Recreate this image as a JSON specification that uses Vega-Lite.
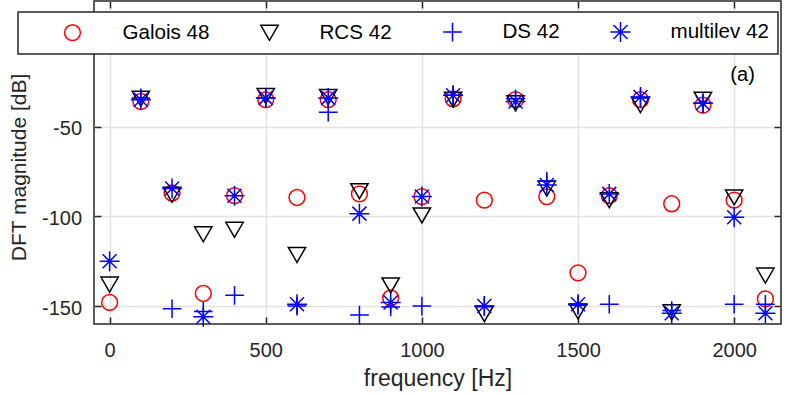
{
  "$schema": "https://vega.github.io/schema/vega-lite/v6.json",
  "width": 687,
  "height": 323,
  "autosize": "none",
  "padding": {"left": 94, "top": 1, "right": 8, "bottom": 71},
  "config": {
    "font": "Liberation Sans",
    "view": {"stroke": "#262626", "strokeWidth": 1.5},
    "axis": {
      "labelFontSize": 20,
      "labelColor": "#262626",
      "titleColor": "#262626",
      "titleFontWeight": "normal",
      "tickColor": "#262626",
      "tickWidth": 1.5,
      "tickSize": -7,
      "domain": false,
      "gridColor": "#e2e2e2",
      "gridWidth": 1.5,
      "gridOpacity": 1,
      "labelExpr": "'' + datum.value"
    },
    "legend": {"strokeWidth": 1.5}
  },
  "data": {
    "values": [
      {"series": "Galois 48", "freq": 0, "db": -148},
      {"series": "Galois 48", "freq": 100, "db": -36},
      {"series": "Galois 48", "freq": 200, "db": -87},
      {"series": "Galois 48", "freq": 300, "db": -143},
      {"series": "Galois 48", "freq": 400, "db": -88.5},
      {"series": "Galois 48", "freq": 500, "db": -35},
      {"series": "Galois 48", "freq": 600, "db": -89.5},
      {"series": "Galois 48", "freq": 700, "db": -35},
      {"series": "Galois 48", "freq": 800, "db": -87.5},
      {"series": "Galois 48", "freq": 900, "db": -145.5},
      {"series": "Galois 48", "freq": 1000, "db": -89},
      {"series": "Galois 48", "freq": 1100, "db": -34.5},
      {"series": "Galois 48", "freq": 1200, "db": -91},
      {"series": "Galois 48", "freq": 1300, "db": -35},
      {"series": "Galois 48", "freq": 1400, "db": -89},
      {"series": "Galois 48", "freq": 1500, "db": -131.5},
      {"series": "Galois 48", "freq": 1600, "db": -88.5},
      {"series": "Galois 48", "freq": 1700, "db": -35},
      {"series": "Galois 48", "freq": 1800, "db": -93},
      {"series": "Galois 48", "freq": 1900, "db": -38},
      {"series": "Galois 48", "freq": 2000, "db": -91},
      {"series": "Galois 48", "freq": 2100, "db": -146},
      {"series": "RCS 42", "freq": 0, "db": -138},
      {"series": "RCS 42", "freq": 100, "db": -34.5},
      {"series": "RCS 42", "freq": 200, "db": -88},
      {"series": "RCS 42", "freq": 300, "db": -110},
      {"series": "RCS 42", "freq": 400, "db": -107.5},
      {"series": "RCS 42", "freq": 500, "db": -33},
      {"series": "RCS 42", "freq": 600, "db": -121.5},
      {"series": "RCS 42", "freq": 700, "db": -33.5},
      {"series": "RCS 42", "freq": 800, "db": -86},
      {"series": "RCS 42", "freq": 900, "db": -138.5},
      {"series": "RCS 42", "freq": 1000, "db": -99.5},
      {"series": "RCS 42", "freq": 1100, "db": -35},
      {"series": "RCS 42", "freq": 1200, "db": -154.5},
      {"series": "RCS 42", "freq": 1300, "db": -37},
      {"series": "RCS 42", "freq": 1400, "db": -84.5},
      {"series": "RCS 42", "freq": 1500, "db": -153},
      {"series": "RCS 42", "freq": 1600, "db": -91},
      {"series": "RCS 42", "freq": 1700, "db": -38},
      {"series": "RCS 42", "freq": 1800, "db": -153.5},
      {"series": "RCS 42", "freq": 1900, "db": -35},
      {"series": "RCS 42", "freq": 2000, "db": -89.5},
      {"series": "RCS 42", "freq": 2100, "db": -133},
      {"series": "DS 42", "freq": 100, "db": -34},
      {"series": "DS 42", "freq": 200, "db": -151.5},
      {"series": "DS 42", "freq": 300, "db": -153},
      {"series": "DS 42", "freq": 400, "db": -144},
      {"series": "DS 42", "freq": 500, "db": -34},
      {"series": "DS 42", "freq": 600, "db": -150},
      {"series": "DS 42", "freq": 700, "db": -42},
      {"series": "DS 42", "freq": 800, "db": -155},
      {"series": "DS 42", "freq": 900, "db": -150.5},
      {"series": "DS 42", "freq": 1000, "db": -150},
      {"series": "DS 42", "freq": 1100, "db": -32.5},
      {"series": "DS 42", "freq": 1200, "db": -150},
      {"series": "DS 42", "freq": 1300, "db": -34.5},
      {"series": "DS 42", "freq": 1400, "db": -80.5},
      {"series": "DS 42", "freq": 1500, "db": -149.5},
      {"series": "DS 42", "freq": 1600, "db": -149},
      {"series": "DS 42", "freq": 1700, "db": -34},
      {"series": "DS 42", "freq": 1800, "db": -152.5},
      {"series": "DS 42", "freq": 1900, "db": -37},
      {"series": "DS 42", "freq": 2000, "db": -149},
      {"series": "DS 42", "freq": 2100, "db": -149},
      {"series": "multilev 42", "freq": 0, "db": -125},
      {"series": "multilev 42", "freq": 100, "db": -35},
      {"series": "multilev 42", "freq": 200, "db": -84.5},
      {"series": "multilev 42", "freq": 300, "db": -156},
      {"series": "multilev 42", "freq": 400, "db": -88.5},
      {"series": "multilev 42", "freq": 500, "db": -34},
      {"series": "multilev 42", "freq": 600, "db": -149},
      {"series": "multilev 42", "freq": 700, "db": -34},
      {"series": "multilev 42", "freq": 800, "db": -98.5},
      {"series": "multilev 42", "freq": 900, "db": -148},
      {"series": "multilev 42", "freq": 1000, "db": -89},
      {"series": "multilev 42", "freq": 1100, "db": -32.5},
      {"series": "multilev 42", "freq": 1200, "db": -150},
      {"series": "multilev 42", "freq": 1300, "db": -36},
      {"series": "multilev 42", "freq": 1400, "db": -82.5},
      {"series": "multilev 42", "freq": 1500, "db": -149},
      {"series": "multilev 42", "freq": 1600, "db": -87.5},
      {"series": "multilev 42", "freq": 1700, "db": -33.5},
      {"series": "multilev 42", "freq": 1800, "db": -154},
      {"series": "multilev 42", "freq": 1900, "db": -37},
      {"series": "multilev 42", "freq": 2000, "db": -100.5},
      {"series": "multilev 42", "freq": 2100, "db": -154}
    ]
  },
  "layer": [
    {
      "mark": {"type": "point", "filled": false, "strokeWidth": 1.5, "opacity": 1},
      "encoding": {
        "x": {
          "field": "freq", "type": "quantitative",
          "scale": {"domain": [-50, 2150], "nice": false, "zero": false},
          "axis": {"title": "frequency [Hz]", "titleFontSize": 23, "values": [0, 500, 1000, 1500, 2000], "grid": true, "labelPadding": 23, "titlePadding": 7, "labelFlush": false}
        },
        "y": {
          "field": "db", "type": "quantitative",
          "scale": {"domain": [-160, 20], "nice": false, "zero": false},
          "axis": {"title": "DFT magnitude [dB]", "titleFontSize": 21, "titleY": 166, "values": [-150, -100, -50], "grid": true, "labelPadding": 19.5, "labelOffset": 2, "titlePadding": 12, "labelFlush": false}
        },
        "color": {
          "field": "series", "type": "nominal",
          "scale": {"domain": ["Galois 48", "RCS 42", "DS 42", "multilev 42"], "range": ["#ff0000", "#000000", "#0000ff", "#0000ff"]},
          "legend": {"orient": "none", "legendX": -76, "legendY": 11, "direction": "horizontal", "columns": 4, "title": " ", "titleOrient": "left", "titlePadding": 34.5, "titleFontSize": 20, "padding": 9, "strokeColor": "#262626", "fillColor": "#ffffff", "labelFontSize": 20.6, "labelColor": "#000000", "labelOffset": 39, "columnPadding": 47, "symbolStrokeWidth": 1.5}
        },
        "shape": {
          "field": "series", "type": "nominal",
          "scale": {"domain": ["Galois 48", "RCS 42", "DS 42", "multilev 42"], "range": ["circle", "triangle-down", "M-1,0H1M0,-1V1", "M-1,0H1M0,-1V1M-0.7,-0.7L0.7,0.7M-0.7,0.7L0.7,-0.7"]},
          "legend": {"orient": "none", "legendX": -76, "legendY": 11, "direction": "horizontal", "columns": 4, "title": " ", "titleOrient": "left", "titlePadding": 34.5, "titleFontSize": 20, "padding": 9, "strokeColor": "#262626", "fillColor": "#ffffff", "labelFontSize": 20.6, "labelColor": "#000000", "labelOffset": 39, "columnPadding": 47, "symbolStrokeWidth": 1.5}
        },
        "size": {
          "field": "series", "type": "nominal",
          "scale": {"domain": ["Galois 48", "RCS 42", "DS 42", "multilev 42"], "range": [250, 400, 400, 400]},
          "legend": {"orient": "none", "legendX": -76, "legendY": 11, "direction": "horizontal", "columns": 4, "title": " ", "titleOrient": "left", "titlePadding": 34.5, "titleFontSize": 20, "padding": 9, "strokeColor": "#262626", "fillColor": "#ffffff", "labelFontSize": 20.6, "labelColor": "#000000", "labelOffset": 39, "columnPadding": 47, "symbolStrokeWidth": 1.5}
        }
      }
    },
    {
      "mark": {"type": "point", "opacity": 0},
      "encoding": {
        "x": {
          "field": "freq", "type": "quantitative",
          "axis": {"orient": "top", "title": null, "labels": false, "values": [0, 500, 1000, 1500, 2000], "grid": false}
        },
        "y": {
          "field": "db", "type": "quantitative",
          "axis": {"orient": "right", "title": null, "labels": false, "values": [-150, -100, -50], "grid": false}
        }
      }
    },
    {
      "data": {"values": [{"freq": 2027, "db": -21, "label": "(a)"}]},
      "mark": {"type": "text", "fontSize": 20, "color": "#000000", "align": "center", "baseline": "middle"},
      "encoding": {
        "x": {"field": "freq", "type": "quantitative", "axis": null},
        "y": {"field": "db", "type": "quantitative", "axis": null},
        "text": {"field": "label"}
      }
    }
  ],
  "resolve": {"axis": {"x": "independent", "y": "independent"}}
}
